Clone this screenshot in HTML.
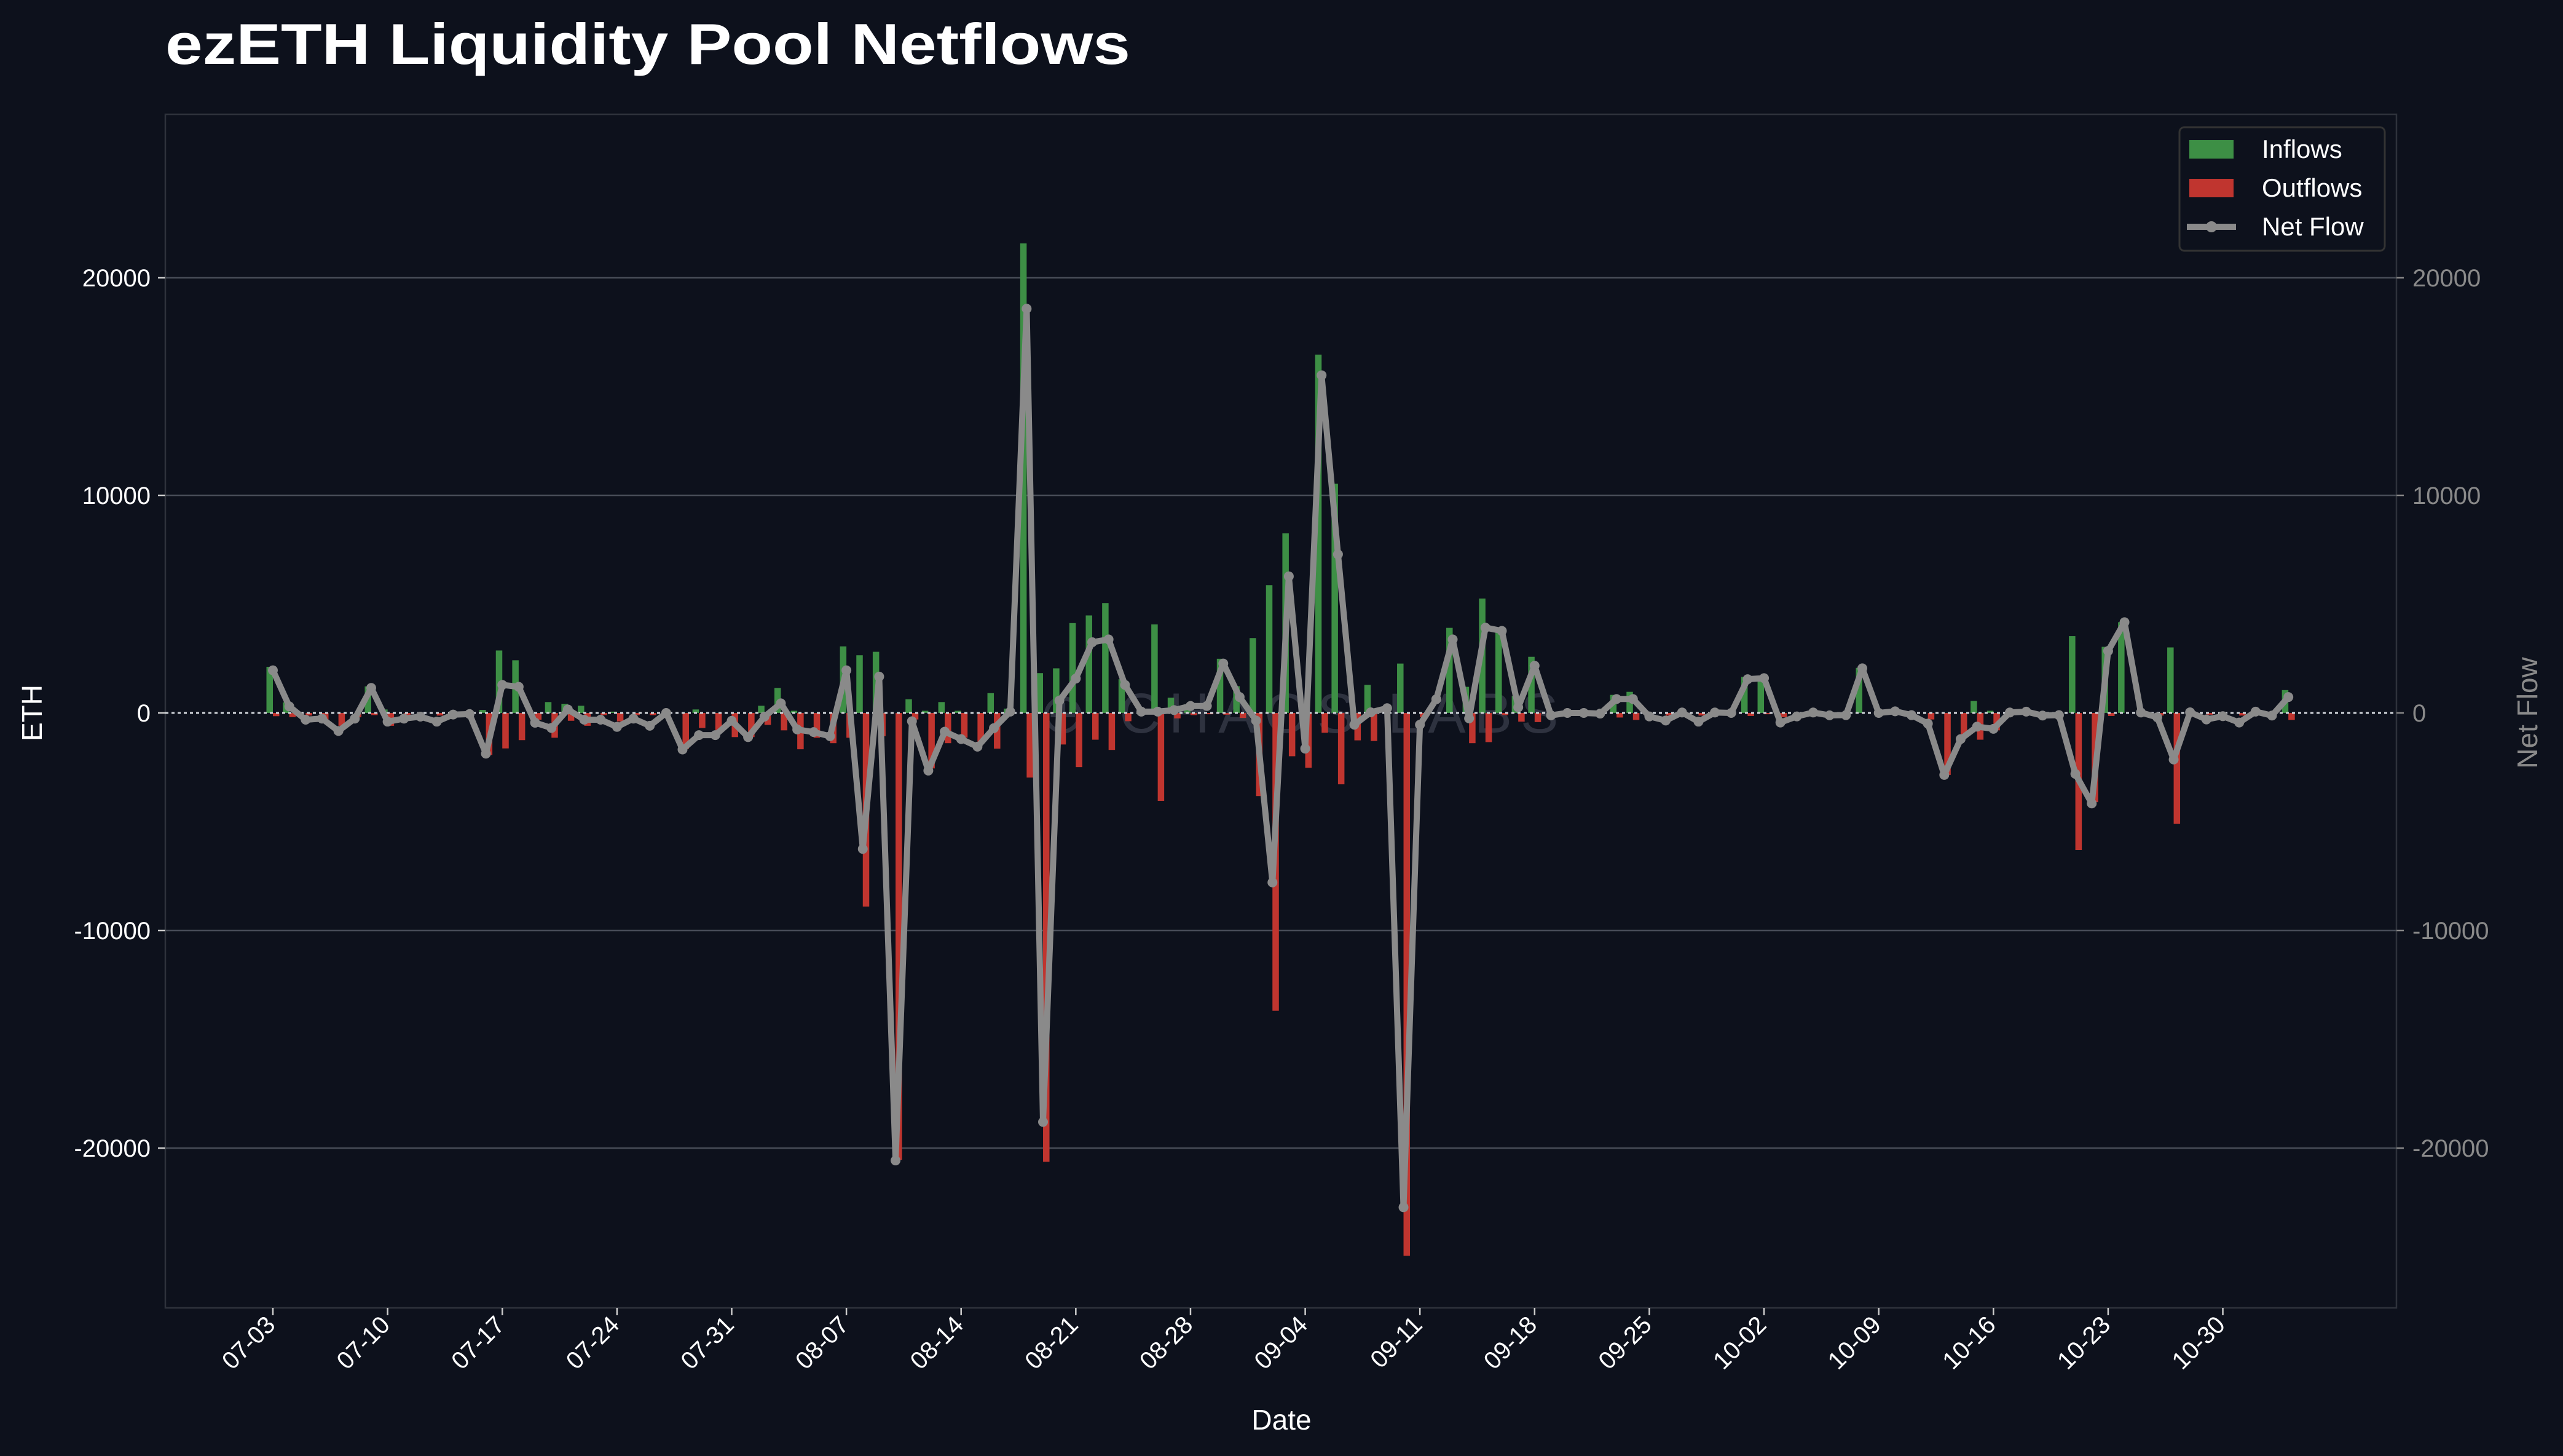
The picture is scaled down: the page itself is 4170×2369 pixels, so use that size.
<!DOCTYPE html>
<html><head><meta charset="utf-8"><style>
html,body{margin:0;padding:0;background:#0d111c;}
svg{display:block}
text{font-family:"Liberation Sans","DejaVu Sans",sans-serif;}
</style></head><body>
<svg id="s" width="4170" height="2369" viewBox="0 0 4170 2369" xmlns="http://www.w3.org/2000/svg">
<rect width="4170" height="2369" fill="#0d111c"/>
<text x="269" y="104" font-size="94" font-weight="bold" fill="#ffffff" textLength="1570" lengthAdjust="spacingAndGlyphs">ezETH Liquidity Pool Netflows</text>
<g id="g"></g>
</svg>
<script>
var net=[1960,300,-310,-260,-830,-260,1150,-400,-260,-170,-400,-75,-50,-1870,1290,1200,-450,-690,160,-310,-310,-640,-260,-590,0,-1680,-1020,-1020,-360,-1110,-170,440,-760,-880,-1070,1960,-6250,1670,-20570,-380,-2650,-860,-1200,-1550,-700,60,18580,-18800,570,1580,3250,3380,1290,60,60,130,320,320,2270,730,-350,-7790,6280,-1640,15520,7290,-540,30,220,-22720,-540,630,3380,-250,3920,3770,260,2170,-110,0,0,-30,640,640,-160,-350,20,-400,20,0,1550,1600,-440,-160,20,-110,-100,2050,0,75,-100,-490,-2850,-1200,-630,-730,20,60,-120,-100,-2800,-4160,2850,4170,20,-200,-2140,30,-300,-150,-440,60,-120,730];
var inf={0:2120,1:490,6:1220,7:160,13:140,14:2870,15:2420,17:500,18:420,19:330,21:60,26:160,30:330,31:1150,32:100,35:3060,36:2650,37:2810,39:630,40:100,41:500,42:100,44:910,45:200,46:21580,47:1830,48:2050,49:4130,50:4480,51:5050,52:1550,54:4070,55:700,56:400,58:2490,59:1230,60:3440,61:5870,62:8260,64:16470,65:10540,67:1290,69:2270,72:3910,73:1200,74:5260,75:3800,76:780,77:2580,82:830,83:970,90:1660,91:1630,97:2070,104:550,105:100,110:3530,112:3040,113:4170,116:3010,123:1050};
var out={0:-150,1:-190,2:-120,3:-310,4:-590,5:-200,6:-100,7:-590,8:-100,10:-120,13:-1930,14:-1630,15:-1250,16:-310,17:-1140,18:-360,19:-590,20:-100,21:-390,22:-100,23:-100,25:-1650,26:-690,27:-880,28:-1110,29:-1110,30:-550,31:-800,32:-1670,33:-1140,34:-1390,35:-1140,36:-8900,37:-1070,38:-20540,39:-300,40:-2550,41:-1390,42:-1140,43:-1390,44:-1640,46:-2970,47:-20630,48:-1450,49:-2490,50:-1230,51:-1700,52:-380,54:-4040,55:-250,56:-100,57:-60,58:-80,59:-230,60:-3820,61:-13690,62:-1990,63:-2520,64:-910,65:-3280,66:-1260,67:-1290,69:-24950,70:-200,73:-1390,74:-1340,75:-100,76:-400,77:-420,82:-210,83:-320,85:-120,87:-120,90:-140,91:-60,92:-200,101:-300,102:-2850,103:-1100,104:-1230,105:-800,110:-6300,111:-4100,112:-140,115:-120,116:-5100,118:-80,120:-120,123:-320};
var L=269,R=3899,T=186,B=2128,Z=1160,K=354/10000;
function X(d){return 444+26.66*d}function Y(v){return Z-v*K}
var h='';
[20000,10000,-10000,-20000].forEach(function(v){h+='<line x1="'+L+'" x2="'+R+'" y1="'+Y(v)+'" y2="'+Y(v)+'" stroke="#474c57" stroke-width="2.5"/>';});
h+='<rect x="'+L+'" y="'+T+'" width="'+(R-L)+'" height="'+(B-T)+'" fill="none" stroke="#2e323b" stroke-width="2.5"/>';
h+='<text x="2120" y="1192" font-size="92" fill="#6b7080" opacity="0.35" text-anchor="middle" letter-spacing="14">⊕ CHAOS LABS</text>';
for(var k in inf){h+='<rect x="'+(X(+k)-10.5)+'" y="'+Y(inf[k])+'" width="10.5" height="'+(inf[k]*K)+'" fill="#3d8f45"/>';}
for(var k in out){h+='<rect x="'+X(+k)+'" y="'+Z+'" width="10.5" height="'+(-out[k]*K)+'" fill="#c0352f"/>';}
h+='<line x1="'+L+'" x2="'+R+'" y1="'+Z+'" y2="'+Z+'" stroke="#cfd3d8" stroke-width="3" stroke-dasharray="5,5"/>';
var p=net.map(function(v,i){return X(i).toFixed(1)+','+Y(v).toFixed(1)}).join(' ');
h+='<polyline points="'+p+'" fill="none" stroke="#8a8a8a" stroke-width="10" stroke-linejoin="round"/>';
net.forEach(function(v,i){h+='<circle cx="'+X(i)+'" cy="'+Y(v)+'" r="8" fill="#8a8a8a"/>';});
[20000,10000,0,-10000,-20000].forEach(function(v){
 h+='<line x1="'+(L-12)+'" x2="'+L+'" y1="'+Y(v)+'" y2="'+Y(v)+'" stroke="#cccccc" stroke-width="2.5"/>';
 h+='<text x="'+(L-24)+'" y="'+(Y(v)+14)+'" font-size="40" fill="#ffffff" text-anchor="end">'+v+'</text>';
 h+='<line x1="'+R+'" x2="'+(R+12)+'" y1="'+Y(v)+'" y2="'+Y(v)+'" stroke="#888" stroke-width="2.5"/>';
 h+='<text x="'+(R+26)+'" y="'+(Y(v)+14)+'" font-size="40" fill="#8a8a8a">'+v+'</text>';
});
var lab=['07-03','07-10','07-17','07-24','07-31','08-07','08-14','08-21','08-28','09-04','09-11','09-18','09-25','10-02','10-09','10-16','10-23','10-30'];
lab.forEach(function(s,i){var x=X(i*7);
 h+='<line x1="'+x+'" x2="'+x+'" y1="'+B+'" y2="'+(B+12)+'" stroke="#cccccc" stroke-width="2.5"/>';
 h+='<text transform="translate('+(x+6)+','+(B+30)+') rotate(-45)" font-size="40" fill="#ffffff" text-anchor="end">'+s+'</text>';});
h+='<text x="2085" y="2326" font-size="46" fill="#ffffff" text-anchor="middle">Date</text>';
h+='<text transform="translate(68,1160) rotate(-90)" font-size="46" fill="#ffffff" text-anchor="middle">ETH</text>';
h+='<text transform="translate(4128,1160) rotate(-90)" font-size="46" fill="#8a8a8a" text-anchor="middle">Net Flow</text>';
h+='<rect x="3546" y="207" width="334" height="201" rx="8" fill="#0d111c" stroke="#333333" stroke-width="3"/>';
h+='<rect x="3562" y="228" width="72" height="30" fill="#3d8f45"/>';
h+='<text x="3680" y="257" font-size="42" fill="#ffffff">Inflows</text>';
h+='<rect x="3562" y="291" width="72" height="30" fill="#c0352f"/>';
h+='<text x="3680" y="320" font-size="42" fill="#ffffff">Outflows</text>';
h+='<line x1="3558" x2="3638" y1="369" y2="369" stroke="#8a8a8a" stroke-width="10"/><circle cx="3598" cy="369" r="9" fill="#8a8a8a"/>';
h+='<text x="3680" y="383" font-size="42" fill="#ffffff">Net Flow</text>';
document.getElementById('g').innerHTML=h;
</script>
</body></html>
